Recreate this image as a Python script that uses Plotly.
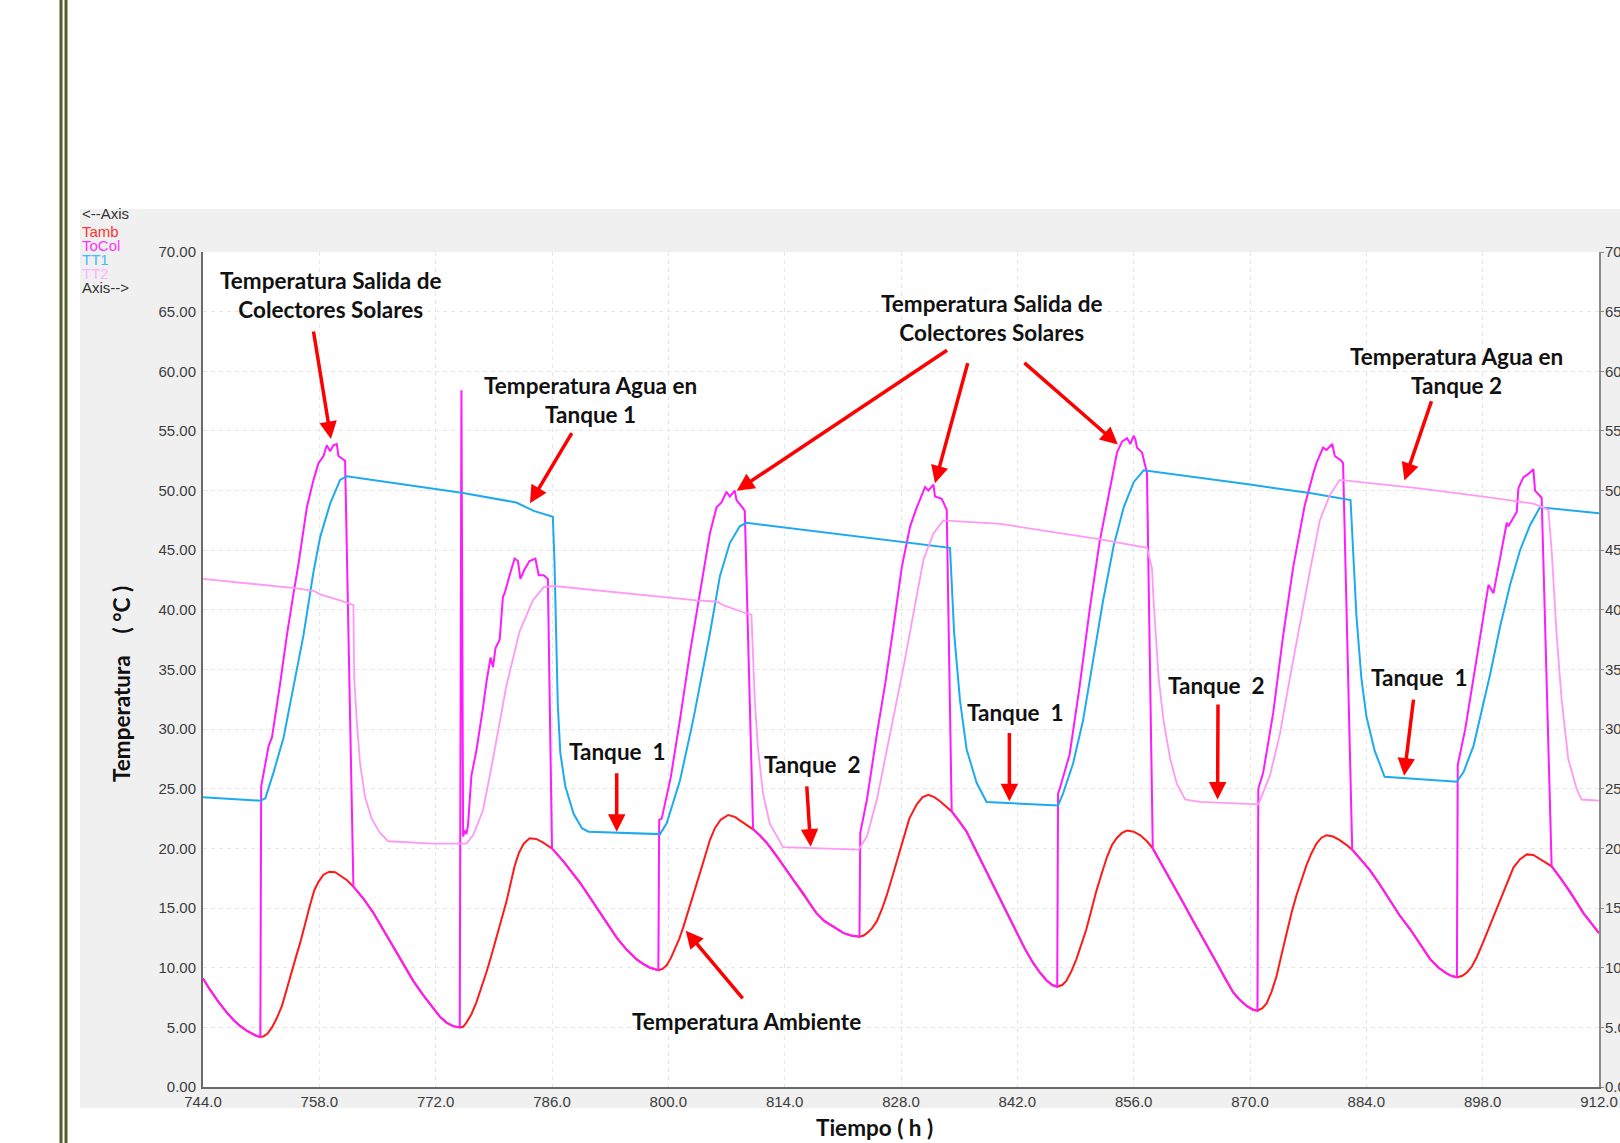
import plotly.graph_objects as go

# ---------------- data ----------------
tamb_h = [744.0, 744.8, 745.8, 746.8, 747.7, 748.5, 749.3, 749.9, 750.4, 750.9,
          751.3, 751.8, 752.3, 752.9, 753.5, 754.0, 754.5, 755.1, 755.7, 756.3, 756.9, 757.4, 757.9,
          758.5, 759.2, 759.9, 760.5, 761.3,
          762.1, 763.3, 764.5, 765.7, 766.9, 768.1, 769.3, 770.5, 771.7, 772.5, 773.3, 774.1, 774.9,
          775.3, 775.7, 776.3, 776.9, 777.5, 778.1, 778.7, 779.3, 779.9, 780.5, 781.0, 781.5, 782.0,
          782.6, 783.3, 784.1, 784.9,
          786.0, 787.4, 789.4, 791.8, 793.8, 795.0, 796.2, 797.0, 797.8, 798.8,
          799.3, 799.8, 800.3, 800.8, 801.3, 801.8, 802.4, 803.0, 803.7, 804.4, 805.0, 805.6, 806.3,
          807.2, 808.0, 808.6, 809.4,
          810.2, 811.0, 811.8, 812.8, 813.8, 815.0, 816.3, 817.1, 817.8, 818.8, 819.9, 821.1, 822.0,
          823.0,
          823.5, 823.9, 824.5, 825.1, 825.7, 826.3, 826.9, 827.5, 828.3, 829.0, 829.9, 830.6, 831.3,
          832.0, 832.7, 833.4,
          834.1, 835.0, 835.9, 836.9, 837.9, 838.9, 839.9, 840.9, 841.9, 842.9, 843.9, 844.7, 845.5,
          846.2, 846.8,
          847.4, 847.9, 848.5, 849.1, 849.7, 850.3, 850.9, 851.5, 852.2, 852.8, 853.4, 854.0, 854.6,
          855.2, 856.0, 856.8, 857.6,
          858.3, 859.1, 860.0, 861.0, 862.0, 863.0, 864.0, 865.0, 866.0, 867.0, 868.0, 868.8, 869.6,
          870.3, 870.9,
          871.5, 872.0, 872.6, 873.2, 873.8, 874.4, 875.0, 875.6, 876.2, 876.8, 877.4, 878.0, 878.6,
          879.2, 880.0, 880.8, 881.6,
          882.3, 883.3, 884.4, 885.6, 886.8, 888.0, 889.3, 890.5, 891.7, 892.7, 893.7, 894.3, 894.9,
          895.5, 896.1, 896.7, 897.3, 898.1, 898.9, 899.7, 900.5, 901.1, 901.7, 902.5, 903.3, 904.1,
          904.9, 905.6,
          906.3, 907.4, 908.5, 909.3, 910.1, 911.0, 912.0]
tamb_t = [9.1, 8.2, 7.2, 6.3, 5.6, 5.1, 4.7, 4.45, 4.3, 4.2,
          4.25, 4.5, 5.0, 5.8, 6.8, 8.0, 9.3, 10.7, 12.1, 13.8, 15.3, 16.5, 17.2,
          17.8, 18.05, 18.0, 17.75, 17.35,
          16.8, 15.8, 14.6, 13.2, 11.8, 10.3, 8.9, 7.7, 6.6, 5.9, 5.4, 5.1, 5.0,
          5.05, 5.4, 6.1, 7.1, 8.3, 9.6, 11.0, 12.5, 14.0, 15.5, 17.0, 18.5, 19.6,
          20.4, 20.85, 20.8, 20.5,
          20.0, 18.9, 17.1, 14.6, 12.5, 11.5, 10.7, 10.3, 10.0, 9.8,
          9.9, 10.2, 10.8, 11.6, 12.4, 13.4, 14.7, 16.1, 17.7, 19.3, 20.7, 21.7, 22.4,
          22.8, 22.65, 22.35, 22.0,
          21.6, 21.1, 20.5, 19.6, 18.6, 17.4, 16.2, 15.3, 14.6, 13.9, 13.4, 12.9, 12.7,
          12.6,
          12.7, 12.9, 13.3, 13.9, 14.9, 16.1, 17.5, 18.9, 20.9, 22.5, 23.7, 24.3, 24.5,
          24.3, 23.95, 23.55,
          23.1, 22.3, 21.4, 20.0, 18.6, 17.1, 15.7, 14.3, 12.9, 11.6, 10.4, 9.6, 8.95,
          8.55, 8.4,
          8.55, 8.9, 9.7, 10.7, 11.9, 13.2, 14.8, 16.4, 18.0, 19.3, 20.3, 20.9, 21.3,
          21.5, 21.4, 21.1, 20.6,
          20.0, 19.0, 17.9, 16.6, 15.4, 14.1, 12.9, 11.6, 10.4, 9.1, 7.9, 7.3, 6.8,
          6.5, 6.4,
          6.6, 7.0, 8.0, 9.3, 11.1, 12.9, 14.6, 16.1, 17.4, 18.6, 19.6, 20.4, 20.9,
          21.1, 21.0, 20.7, 20.3,
          19.9, 19.1, 18.2, 17.0, 15.7, 14.4, 13.2, 11.9, 10.7, 10.0, 9.5, 9.3, 9.2,
          9.3, 9.6, 10.1, 10.9, 12.2, 13.6, 15.0, 16.4, 17.5, 18.4, 19.1, 19.5, 19.45,
          19.1, 18.8,
          18.5, 17.5, 16.4, 15.5, 14.6, 13.8, 12.9]

tocol_h = [744.0, 744.8, 745.8, 746.8, 747.7, 748.5, 749.3, 749.9, 750.4, 750.9,
           751.0, 751.9, 752.3, 753.3, 754.1, 754.9, 755.5, 756.5, 757.3, 757.9, 758.5, 758.9, 759.3,
           759.7, 760.1, 760.3, 761.1,
           762.1, 763.3, 764.5, 765.7, 766.9, 768.1, 769.3, 770.5, 771.7, 772.5, 773.3, 774.1, 774.9,
           775.1, 775.3, 775.5, 775.7, 775.9, 776.3, 776.9, 777.7, 778.1, 778.6, 778.9, 779.2, 779.7,
           780.1, 780.3, 780.9, 781.5, 781.9, 782.2, 782.7, 783.3, 784.0, 784.4, 785.0, 785.5,
           786.0, 787.4, 789.4, 791.8, 793.8, 795.0, 796.2, 797.0, 797.8, 798.8,
           798.9, 799.2, 800.3, 801.4, 802.6, 803.8, 805.0, 805.8, 806.4, 807.0, 807.4, 808.0, 808.2,
           809.0, 809.2,
           810.2, 811.0, 811.8, 812.8, 813.8, 815.0, 816.3, 817.1, 817.8, 818.8, 819.9, 821.1, 822.0,
           823.0,
           823.1, 823.9, 825.1, 826.1, 827.1, 828.1, 829.1, 829.9, 830.9, 831.3, 831.9, 832.1, 832.9,
           833.3, 833.5,
           834.1, 835.0, 835.9, 836.9, 837.9, 838.9, 839.9, 840.9, 841.9, 842.9, 843.9, 844.7, 845.5,
           846.2, 846.8,
           846.9, 847.1, 848.3, 849.5, 850.7, 851.9, 853.2, 854.0, 854.6, 855.2, 855.6, 856.0, 856.2,
           856.4, 857.0, 857.4, 857.6,
           858.3, 859.1, 860.0, 861.0, 862.0, 863.0, 864.0, 865.0, 866.0, 867.0, 868.0, 868.8, 869.6,
           870.3, 870.9,
           871.0, 871.6, 872.8, 874.0, 875.2, 876.6, 877.6, 878.0, 878.8, 879.2, 879.9, 880.2, 881.0,
           881.2,
           882.3, 883.3, 884.4, 885.6, 886.8, 888.0, 889.3, 890.5, 891.7, 892.7, 893.7, 894.3, 894.9,
           895.0, 895.9, 896.9, 897.9, 898.7, 899.3, 899.9, 900.3, 900.9, 901.1, 902.1, 902.3, 902.9,
           903.5, 904.1, 904.3, 904.9, 905.1,
           906.3, 907.4, 908.5, 909.3, 910.1, 911.0, 912.0]
tocol_t = [9.1, 8.2, 7.2, 6.3, 5.6, 5.1, 4.7, 4.45, 4.3, 4.2,
           25.2, 28.6, 29.3, 33.9, 37.9, 41.4, 43.9, 48.6, 50.9, 52.3, 52.9, 53.8, 53.3,
           53.8, 53.9, 52.9, 52.5,
           16.8, 15.8, 14.6, 13.2, 11.8, 10.3, 8.9, 7.7, 6.6, 5.9, 5.4, 5.1, 5.0,
           58.4, 21.0, 21.5, 21.2, 22.0, 26.1, 28.2, 31.8, 33.9, 36.0, 35.2, 36.8, 37.5,
           41.1, 41.4, 42.9, 44.3, 44.1, 42.6, 43.4, 44.1, 44.3, 42.9, 42.9, 42.6,
           20.0, 18.9, 17.1, 14.6, 12.5, 11.5, 10.7, 10.3, 10.0, 9.8,
           22.4, 22.5, 26.0, 30.8, 36.4, 41.4, 46.4, 48.6, 49.0, 49.9, 49.5, 50.0, 49.2,
           48.5, 48.3,
           21.6, 21.1, 20.5, 19.6, 18.6, 17.4, 16.2, 15.3, 14.6, 13.9, 13.4, 12.9, 12.7,
           12.6,
           21.3, 24.1, 29.6, 33.8, 38.6, 43.6, 47.0, 48.6, 50.3, 50.0, 50.5, 49.5, 49.3,
           48.6, 48.4,
           23.1, 22.3, 21.4, 20.0, 18.6, 17.1, 15.7, 14.3, 12.9, 11.6, 10.4, 9.6, 8.95,
           8.55, 8.4,
           24.6, 25.0, 27.9, 33.6, 40.0, 45.7, 50.4, 53.2, 54.1, 54.4, 53.9, 54.6, 54.3,
           53.6, 53.2, 52.1, 51.5,
           20.0, 19.0, 17.9, 16.6, 15.4, 14.1, 12.9, 11.6, 10.4, 9.1, 7.9, 7.3, 6.8,
           6.5, 6.4,
           25.0, 26.4, 31.4, 37.9, 43.6, 48.8, 51.4, 52.3, 53.6, 53.4, 53.9, 52.9, 52.5,
           52.3,
           19.9, 19.1, 18.2, 17.0, 15.7, 14.4, 13.2, 11.9, 10.7, 10.0, 9.5, 9.3, 9.2,
           27.0, 30.0, 34.3, 38.6, 42.1, 41.4, 43.6, 45.4, 47.3, 47.0, 48.2, 50.2, 51.1,
           51.4, 51.8, 50.0, 49.6, 49.4,
           18.5, 17.5, 16.4, 15.5, 14.6, 13.8, 12.9]

tt1_h = [744.0, 750.9, 751.5, 752.5, 753.7, 754.9, 756.1, 757.3, 758.1, 759.3, 760.1, 760.5, 761.3,
         775.3, 781.7, 783.8, 786.1, 786.3, 786.5, 786.7, 787.0, 787.6, 788.6, 789.6, 790.4,
         799.0, 799.8, 801.4, 803.0, 805.0, 806.2, 807.4, 808.6, 809.4,
         833.9, 834.1, 834.4, 835.1, 835.9, 837.1, 838.3, 846.9, 847.5, 848.7, 849.9, 851.1, 852.3,
         853.6, 854.8, 856.0, 857.2, 870.0, 877.2, 882.1, 882.4, 882.8, 883.4, 884.0, 885.0, 886.2,
         894.9, 895.7, 896.9, 898.1, 898.9, 900.1, 901.3, 902.5, 903.7, 904.9, 912.0]
tt1_t = [24.3, 24.0, 24.2, 26.4, 29.3, 33.6, 37.9, 43.2, 46.1, 48.9, 50.3, 50.9, 51.2,
         49.8, 49.0, 48.3, 47.8, 44.0, 38.0, 32.0, 28.0, 25.2, 22.9, 21.7, 21.4,
         21.2, 22.1, 25.7, 30.8, 38.0, 42.8, 45.6, 47.0, 47.3,
         45.2, 42.0, 38.0, 32.4, 28.3, 25.5, 23.9, 23.6, 24.6, 27.1, 30.7, 35.7, 40.7,
         45.4, 48.6, 50.7, 51.7, 50.5, 49.8, 49.2, 45.0, 39.6, 34.3, 31.1, 28.2, 26.0,
         25.6, 26.4, 28.6, 32.1, 34.6, 38.6, 42.1, 45.0, 47.1, 48.6, 48.1]

tt2_h = [744.0, 749.7, 755.3, 757.3, 758.1, 760.5, 761.3, 762.1, 762.2, 762.5, 762.9, 763.5, 764.3,
         765.3, 766.3, 771.7, 775.7, 776.5, 777.7, 778.9, 780.5, 782.1, 783.7, 785.0, 786.2, 797.8,
         803.4, 805.8, 806.6, 809.0, 810.0, 810.2, 810.4, 810.8, 811.4, 812.2, 813.8, 822.9, 823.9,
         825.1, 826.7, 828.3, 829.5, 830.7, 831.9, 833.1, 840.0, 852.0, 857.6, 858.2, 858.4, 859.0,
         859.6, 860.4, 861.2, 862.2, 864.0, 871.0, 872.4, 873.6, 874.8, 876.0, 877.2, 878.4, 879.6,
         880.8, 890.1, 898.1, 904.1, 905.9, 906.3, 906.9, 907.5, 908.3, 909.3, 909.9, 912.0]
tt2_t = [42.6, 42.2, 41.8, 41.6, 41.3, 40.8, 40.6, 40.4, 34.3, 30.7, 27.1, 24.3, 22.5,
         21.3, 20.6, 20.4, 20.4, 21.1, 23.2, 27.5, 33.6, 38.2, 40.8, 41.9, 42.0, 41.2,
         40.8, 40.7, 40.4, 39.8, 39.6, 36.0, 32.4, 28.3, 24.6, 22.1, 20.1, 19.9, 21.0,
         24.1, 29.6, 35.2, 39.7, 44.2, 46.4, 47.5, 47.2, 45.9, 45.2, 43.5, 40.7, 34.3,
         30.7, 27.5, 25.4, 24.1, 23.9, 23.7, 26.1, 29.6, 34.3, 38.9, 43.2, 47.5, 49.6,
         50.9, 50.2, 49.5, 48.9, 48.4, 45.0, 37.9, 32.5, 27.5, 25.0, 24.1, 24.0]

x_tick_vals = [744, 758, 772, 786, 800, 814, 828, 842, 856, 870, 884, 898, 912]
x_tick_text = ["744.0", "758.0", "772.0", "786.0", "800.0", "814.0", "828.0", "842.0",
               "856.0", "870.0", "884.0", "898.0", "912.0"]
y_tick_vals = [0, 5, 10, 15, 20, 25, 30, 35, 40, 45, 50, 55, 60, 65, 70]
y_tick_text = ["0.00", "5.00", "10.00", "15.00", "20.00", "25.00", "30.00", "35.00", "40.00",
               "45.00", "50.00", "55.00", "60.00", "65.00", "70.00"]

series_names = ["Tamb", "ToCol", "TT1", "TT2"]
series_colors = ["#ff1a1a", "#ff1aff", "#1eaaf0", "#ff99f5"]
legend_colors = ["#ff3333", "#ff33ff", "#44bbff", "#ffb3ff"]

# ---------------- figure ----------------
W, H = 1620, 1143
L, R, T, B = 203, 21, 252, 56
PW, PH = W - L - R, H - T - B


def px(xp):
    return (xp - L) / PW


def py(yp):
    return (H - B - yp) / PH


fig = go.Figure()
data_sets = [(tamb_h, tamb_t), (tocol_h, tocol_t), (tt1_h, tt1_t), (tt2_h, tt2_t)]
widths = [2, 2, 2, 1.8]
for (hh, tt), name, col, w in zip(data_sets, series_names, series_colors, widths):
    fig.add_trace(go.Scatter(x=hh, y=tt, mode="lines", name=name,
                             line=dict(color=col, width=w), showlegend=False,
                             hoverinfo="skip"))
# empty trace to activate the right-hand axis
fig.add_trace(go.Scatter(x=[], y=[], yaxis="y2", showlegend=False))

tick_font = dict(family="Liberation Sans, Arial, sans-serif", size=15, color="#3c3c3c")
bold_font = dict(family="Lato, Carlito, Calibri, sans-serif", size=22.5, color="#111111")

grid_kw = dict(showgrid=True, gridcolor="#e6e6e6", griddash="4px,4px", gridwidth=1)

fig.update_layout(
    width=W, height=H, autosize=False,
    margin=dict(l=L, r=R, t=T, b=B, pad=0, autoexpand=False),
    paper_bgcolor="white", plot_bgcolor="white",
    xaxis=dict(range=[744, 912], tickmode="array", tickvals=x_tick_vals, ticktext=x_tick_text,
               zeroline=False, showline=True, linecolor="#6a6a6a", linewidth=2,
               ticks="", tickfont=tick_font, automargin=False, **grid_kw),
    yaxis=dict(range=[0, 70], tickmode="array", tickvals=y_tick_vals, ticktext=y_tick_text,
               zeroline=False, showline=True, linecolor="#6a6a6a", linewidth=2,
               ticks="", tickfont=tick_font, ticklabelstandoff=2, automargin=False, **grid_kw),
    yaxis2=dict(range=[0, 70], overlaying="y", side="right", tickmode="array",
                tickvals=y_tick_vals, ticktext=y_tick_text, showgrid=False, zeroline=False,
                showline=True, linecolor="#8a8a8a", linewidth=2, ticks="outside", ticklen=3,
                ticklabelstandoff=-2, tickcolor="#8a8a8a", tickfont=tick_font, automargin=False),
)

shapes = [
    dict(type="rect", xref="paper", yref="paper", x0=px(80), x1=px(W + 10), y0=py(1108), y1=py(209),
         fillcolor="#f0f0f0", line=dict(width=0), layer="below"),
    dict(type="rect", xref="paper", yref="paper", x0=0, x1=1, y0=0, y1=1,
         fillcolor="white", line=dict(width=0), layer="below"),
    dict(type="line", xref="paper", yref="paper", x0=px(61), x1=px(61), y0=py(H + 5), y1=py(-5),
         line=dict(color="#4f6128", width=3), layer="above"),
    dict(type="line", xref="paper", yref="paper", x0=px(66), x1=px(66), y0=py(H + 5), y1=py(-5),
         line=dict(color="#4f6128", width=3), layer="above"),
]
fig.update_layout(shapes=shapes)

ann = []
# left "legend" block
legend_rows = [("&lt;--Axis", "#333333", 213)] + \
              [(n, c, yy) for n, c, yy in zip(series_names, legend_colors, [231, 245, 259, 273])] + \
              [("Axis--&gt;", "#333333", 287)]
for txt, col, yy in legend_rows:
    ann.append(dict(text=txt, xref="paper", yref="paper", x=px(80), y=py(yy), xanchor="left",
                    yanchor="middle", showarrow=False,
                    font=dict(family="Liberation Sans, Arial, sans-serif", size=15, color=col)))

# axis titles
ann.append(dict(text="<b>Temperatura    ( °C )</b>", xref="paper", yref="paper", x=px(121), y=py(684),
                textangle=-90, showarrow=False, xanchor="center", yanchor="middle", font=bold_font))
ann.append(dict(text="<b>Tiempo ( h )</b>", xref="paper", yref="paper", x=px(874), y=py(1127),
                showarrow=False, xanchor="center", yanchor="middle", font=bold_font))

# text labels
labels = [
    ("Temperatura Salida de<br>Colectores Solares", 759.4, 66.4),
    ("Temperatura Agua en<br>Tanque 1", 790.6, 57.6),
    ("Temperatura Salida de<br>Colectores Solares", 839.0, 64.45),
    ("Temperatura Agua en<br>Tanque 2", 894.9, 60.0),
    ("Tanque  1", 793.9, 28.1),
    ("Tanque  2", 817.3, 27.0),
    ("Tanque  1", 841.8, 31.4),
    ("Tanque  2", 866.0, 33.7),
    ("Tanque  1", 890.4, 34.3),
    ("Temperatura Ambiente", 809.35, 5.5),
]
for txt, xx, yy in labels:
    ann.append(dict(text="<b>" + txt.replace("<br>", "</b><br><b>") + "</b>", x=xx, y=yy,
                    xref="x", yref="y", showarrow=False, xanchor="center", yanchor="middle",
                    align="center", font=bold_font))

# red arrows: (tail_x, tail_y, head_x, head_y)
arrows = [
    (757.27, 63.46, 759.40, 54.32),
    (788.49, 54.94, 783.35, 48.93),
    (833.72, 61.85, 808.23, 49.99),
    (836.08, 60.81, 832.09, 50.61),
    (842.67, 60.81, 854.10, 53.86),
    (891.90, 57.61, 888.59, 50.85),
    (793.79, 26.43, 793.79, 21.40),
    (816.65, 25.32, 817.13, 20.15),
    (841.04, 29.80, 841.04, 23.95),
    (866.15, 32.20, 866.10, 24.10),
    (889.70, 32.60, 888.55, 26.10),
    (809.10, 7.30, 802.10, 13.10),
]
for tx, ty, hx, hy in arrows:
    ann.append(dict(text="", x=hx, y=hy, ax=tx, ay=ty, xref="x", yref="y", axref="x", ayref="y",
                    showarrow=True, arrowhead=2, arrowsize=1, arrowwidth=3.5, arrowcolor="#ff0000",
                    standoff=0, startstandoff=0))

fig.update_layout(annotations=ann)

fig.write_html(
    "out.html",
    config={"displayModeBar": False},
    post_script="document.documentElement.style.margin='0';document.body.style.margin='0';"
                "document.body.style.overflow='hidden';document.documentElement.style.overflow='hidden';",
)
